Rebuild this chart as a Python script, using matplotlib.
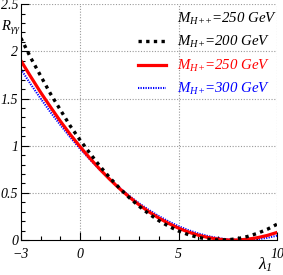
import matplotlib
matplotlib.use("Agg")
import matplotlib.pyplot as plt
from matplotlib.lines import Line2D
from matplotlib.ticker import MultipleLocator

plt.rcParams["font.family"] = "Liberation Serif"
plt.rcParams["font.style"] = "italic"
plt.rcParams["mathtext.fontset"] = "custom"
plt.rcParams["mathtext.rm"] = "Liberation Serif:italic"
plt.rcParams["mathtext.it"] = "Liberation Serif:italic"

lam = [-3, -2.5, -2, -1.5, -1, -0.5, 0, 0.5, 1, 1.5, 2, 2.5, 3, 3.5, 4, 4.5,
       5, 5.5, 6, 6.5, 7, 7.5, 8, 8.5, 9, 9.5, 10]
r_200 = [2.14, 1.93, 1.74, 1.55, 1.38, 1.21, 1.06, 0.92, 0.785, 0.663, 0.551, 0.449,
         0.358, 0.277, 0.206, 0.146, 0.096, 0.057, 0.028, 0.009, 0.001, 0.003, 0.015,
         0.038, 0.071, 0.114, 0.168]
r_250 = [1.90, 1.73, 1.565, 1.41, 1.26, 1.12, 0.99, 0.867, 0.752, 0.645, 0.546, 0.456,
         0.373, 0.299, 0.233, 0.176, 0.126, 0.085, 0.052, 0.027, 0.010, 0.001, 0.001,
         0.009, 0.025, 0.049, 0.081]
r_300 = [1.81, 1.65, 1.50, 1.355, 1.22, 1.09, 0.968, 0.854, 0.746, 0.646, 0.554, 0.468,
         0.389, 0.318, 0.254, 0.197, 0.147, 0.105, 0.070, 0.042, 0.021, 0.007, 0.001,
         0.001, 0.009, 0.024, 0.047]

labels = [r"$M_{H{+}{+}}$=250 GeV", r"$M_{H{+}}$=200 GeV", r"$M_{H{+}}$=250 GeV",
          r"$M_{H{+}}$=300 GeV"]
colors = ["black", "black", "#ff0000", "#0000ff"]

fig = plt.figure(figsize=(2.83, 2.75), dpi=100)
ax = fig.add_axes([0.074, 0.127, 0.905, 0.858])

grid = dict(color="#999999", ls=(0, (1, 1.5)), lw=0.8, zorder=0)
for x in [0, 5, 10]:
    ax.axvline(x, **grid)
for y in [0.5, 1, 1.5, 2, 2.5]:
    ax.axhline(y, **grid)

l1, = ax.plot(lam, r_200, color="black", lw=2.4, ls=(0, (1, 1.3)), zorder=3)
l2, = ax.plot(lam, r_250, color="#ff0000", lw=2.3, zorder=2)
l3, = ax.plot(lam, r_300, color="#0000ff", lw=1.5, ls=(0, (0.6, 0.6)), zorder=1)

ax.set_xlim(-3, 10)
ax.set_ylim(0, 2.5)
ax.set_xticks([-3, 0, 5, 10])
ax.set_yticks([0, 0.5, 1, 1.5, 2, 2.5])
ax.set_yticklabels(["0", "0.5", "1", "1.5", "2", "2.5"])
ax.xaxis.set_minor_locator(MultipleLocator(1))
ax.yaxis.set_minor_locator(MultipleLocator(0.1))
ax.tick_params(which="both", direction="in", labelsize=10, width=0.8)
ax.tick_params(which="major", length=6)
ax.tick_params(which="minor", length=3)
ax.tick_params(axis="x", pad=6)
ax.tick_params(axis="y", pad=2)
for s in ["top", "right"]:
    ax.spines[s].set_visible(False)

ax.text(-0.04, 0.9, r"$R_{\gamma\gamma}$", transform=ax.transAxes, fontsize=10.5,
        ha="center", va="center")
ax.text(0.955, -0.105, r"$\lambda_1$", transform=ax.transAxes, fontsize=12.5,
        ha="center", va="center")

handles = [Line2D([], [], color="none"), l1, l2, l3]
leg = ax.legend(handles, labels, loc="upper right", frameon=False, fontsize=10.7,
                handlelength=1.9, handletextpad=0.7, labelspacing=0.5,
                borderaxespad=0.0, borderpad=0.0, bbox_to_anchor=(1.0, 0.972))
for t, c in zip(leg.get_texts(), colors):
    t.set_color(c)

fig.savefig("out.png", dpi=100)
